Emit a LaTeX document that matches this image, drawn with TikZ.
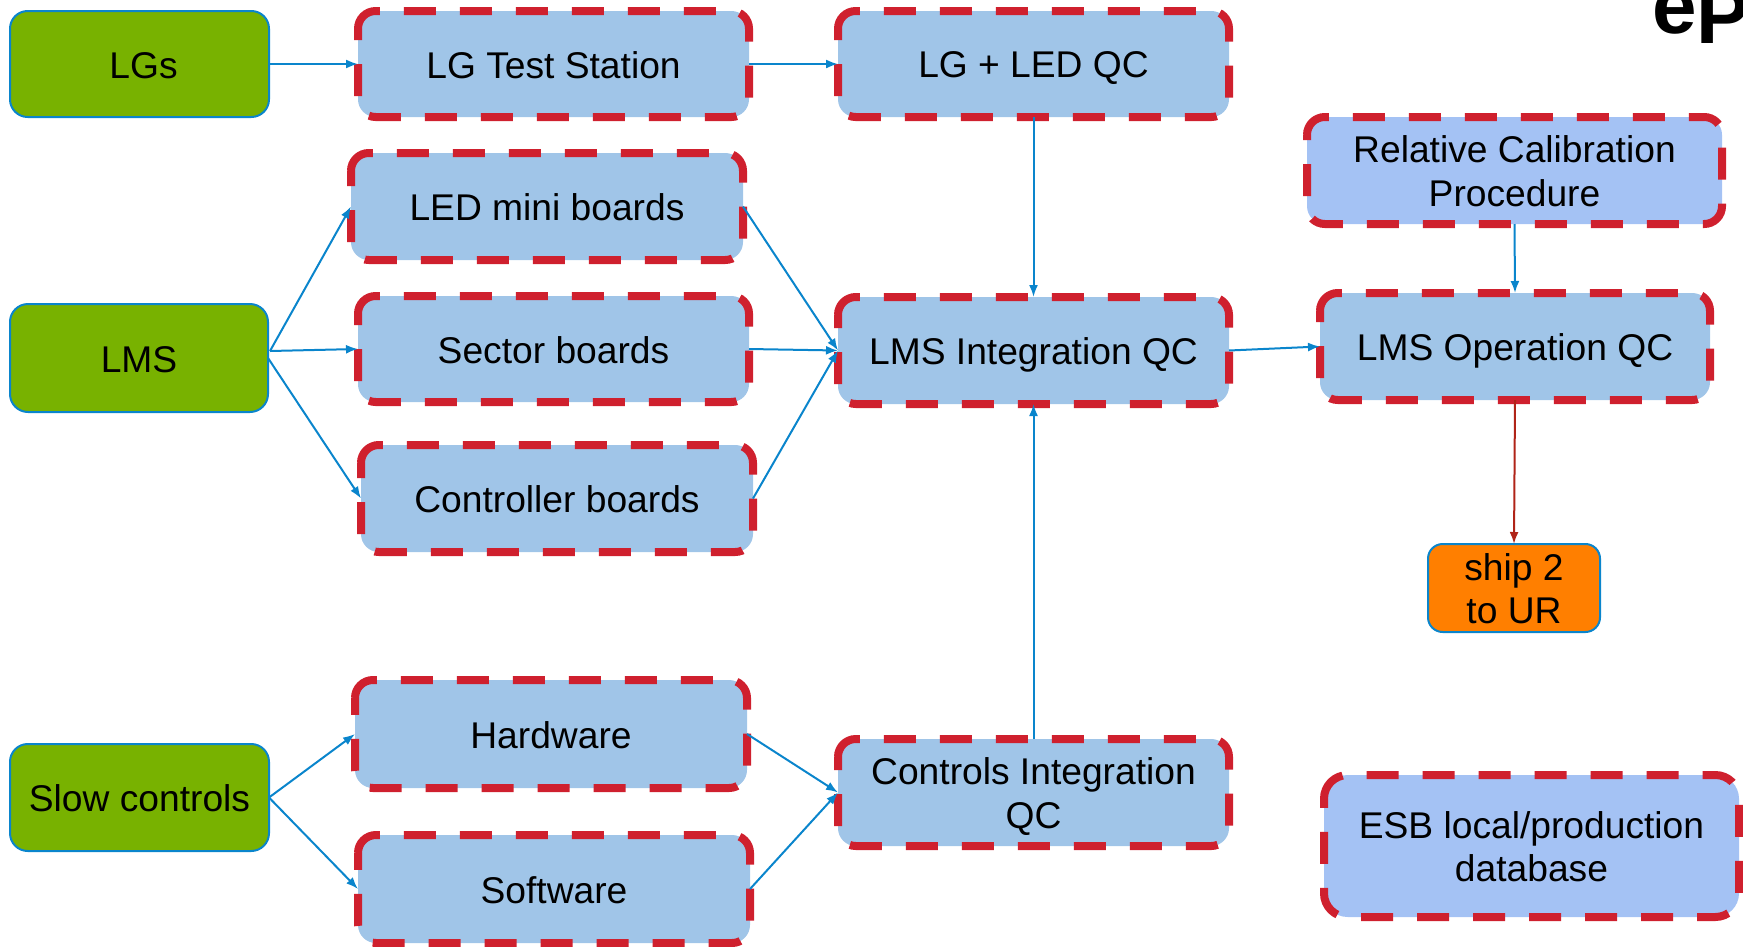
\documentclass[tikz,border=0pt]{standalone}
\usepackage{fontspec}
\setmainfont{Liberation Sans}
\usetikzlibrary{arrows.meta}
\definecolor{gfill}{HTML}{78B200}
\definecolor{bfill}{HTML}{A0C5E8}
\definecolor{pfill}{HTML}{A4C2F4}
\definecolor{rline}{HTML}{CF202E}
\definecolor{bline}{HTML}{0A85CC}
\definecolor{ofill}{HTML}{FF7F00}
\definecolor{dred}{HTML}{B02418}
\tikzset{
 x=1pt,y=-1pt,
 boxbase/.style={rectangle,align=center,inner sep=0pt,outer sep=0pt,font=\fontsize{37.2}{43.5}\selectfont,text=black},
 greenbox/.style={boxbase,fill=gfill,draw=bline,line width=2pt},
 orangebox/.style={boxbase,fill=ofill,draw=bline,line width=2pt},
 qcbox/.style={boxbase,fill=bfill},
 qcpurple/.style={boxbase,fill=pfill},
 reddash/.style={draw=rline,line width=8pt,dash pattern=on 32pt off 24pt},
 link/.style={draw=bline,line width=2pt,-{Latex[length=12pt,width=9pt]}},
 redlink/.style={draw=dred,line width=2pt,-{Latex[length=12pt,width=9pt]}},
}
\newcommand{\tstr}{\rule{0pt}{35pt}}
\newcommand{\bstr}{\rule[-7pt]{0pt}{7pt}}
% plain box: style, name, left, right, top, bottom, text
\newcommand{\bx}[7]{\pgfmathsetmacro{\rr}{(#6-#5)/6}\node[#1,rounded corners=\rr pt,minimum width=#4pt-#3pt,minimum height=#6pt-#5pt] (#2) at ({(#3+#4)/2},{(#5+#6)/2}) {\tstr#7\bstr};}
% box with red dashed outline, starting on the left side just under the corner
\newcommand{\qx}[7]{\bx{#1}{#2}{#3}{#4}{#5}{#6}{#7}\draw[reddash] ([yshift=-\rr pt]#2.north west) arc[start angle=180,end angle=90,radius=\rr pt] -- ([xshift=-\rr pt]#2.north east) arc[start angle=90,end angle=0,radius=\rr pt] -- ([yshift=\rr pt]#2.south east) arc[start angle=0,end angle=-90,radius=\rr pt] -- ([xshift=\rr pt]#2.south west) arc[start angle=-90,end angle=-180,radius=\rr pt] -- cycle;}
\begin{document}
\begin{tikzpicture}
\useasboundingbox (0,0) rectangle (1743,946);
\begin{scope}
\clip (0,0) rectangle (1743,946);
\bx{greenbox}{lgs}{10}{269}{11}{117}{\hspace*{8pt}LGs}
\bx{greenbox}{lms}{10}{268}{304}{412}{LMS}
\bx{greenbox}{slow}{10}{269}{744}{851}{Slow controls}
\qx{qcbox}{lgts}{358}{749}{11}{117}{LG Test Station}
\qx{qcbox}{lgled}{838}{1229}{11}{117}{LG + LED QC}
\qx{qcpurple}{rel}{1307}{1722}{117}{224}{Relative Calibration\\Procedure}
\qx{qcbox}{mini}{351}{743}{153}{260}{LED mini boards}
\qx{qcbox}{sector}{358}{749}{296}{402}{Sector boards}
\qx{qcbox}{integ}{838}{1229}{297}{404}{LMS Integration QC}
\qx{qcbox}{oper}{1320}{1710}{293}{400}{LMS Operation QC}
\qx{qcbox}{ctrl}{361}{753}{445}{552}{Controller boards}
\qx{qcbox}{hard}{355}{747}{680}{788}{Hardware}
\qx{qcbox}{soft}{358}{750}{835}{943}{Software}
\qx{qcbox}{cint}{838}{1229}{739}{846}{Controls Integration\\QC}
\bx{orangebox}{ship}{1428}{1600}{544}{632}{ship 2\\to UR}
\qx{qcpurple}{esb}{1324}{1739}{775}{917}{ESB local/production\\database}
\node[inner sep=0pt,outer sep=0pt,anchor=base west,font=\fontsize{80}{80}\bfseries\selectfont] (logo) at (1652,33) {e\raisebox{-10pt}{P}};
\end{scope}
\coordinate (lmsout) at (270,351);
\draw[link] (lgs.east) -- (lgts.west);
\draw[link] (lgts.east) -- (lgled.west);
\draw[link] (lgled.south) -- (integ.north);
\draw[link] (rel.south) -- (oper.north);
\draw[redlink] (oper.south) -- (ship.north);
\draw[link] (lmsout) -- (mini.west);
\draw[link] (lmsout) -- (sector.west);
\draw[link] (lms.east) -- (ctrl.west);
\draw[link] (mini.east) -- (integ.west);
\draw[link] (sector.east) -- (integ.west);
\draw[link] (ctrl.east) -- (integ.west);
\draw[link] (integ.east) -- (oper.west);
\draw[link] (cint.north) -- (integ.south);
\draw[link] (slow.east) -- (hard.west);
\draw[link] (slow.east) -- (soft.west);
\draw[link] (hard.east) -- (cint.west);
\draw[link] (soft.east) -- (cint.west);
\end{tikzpicture}
\end{document}
